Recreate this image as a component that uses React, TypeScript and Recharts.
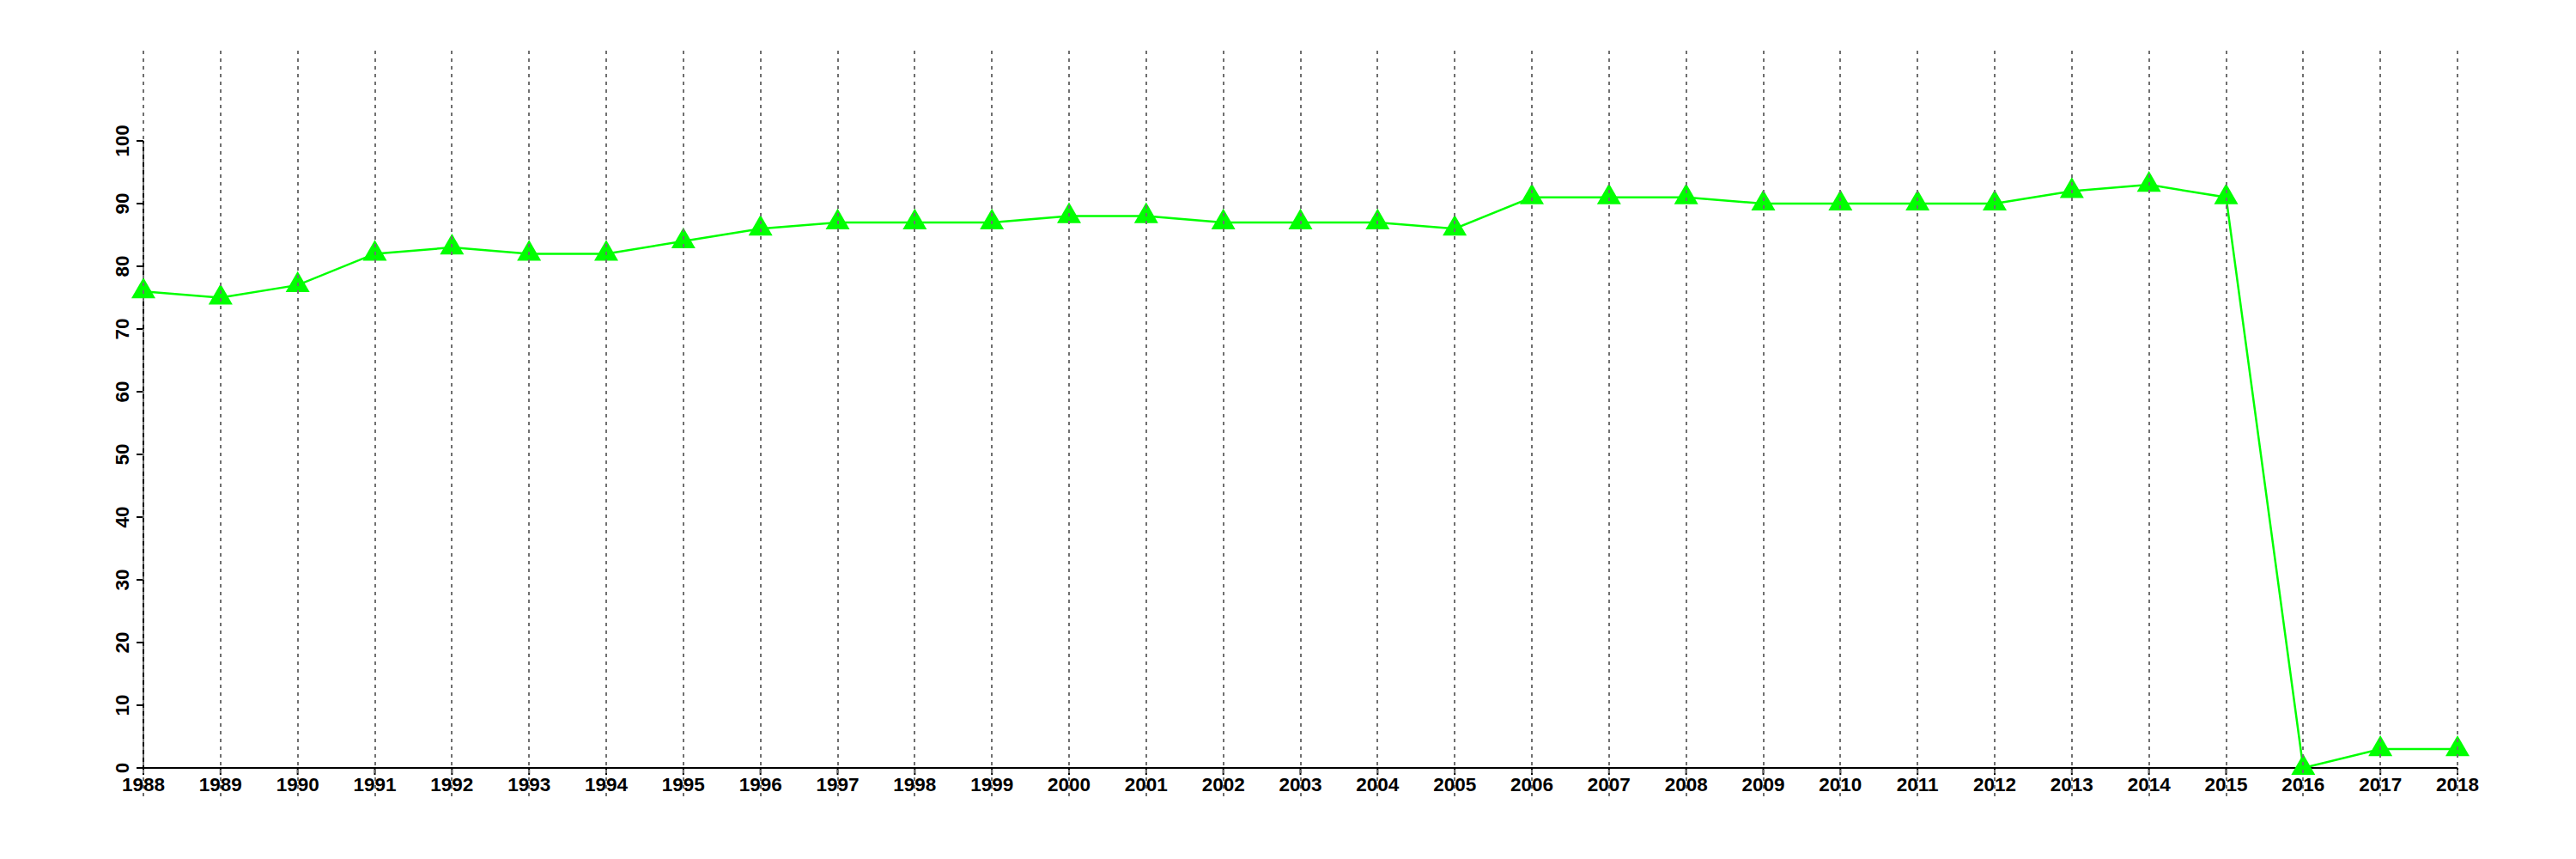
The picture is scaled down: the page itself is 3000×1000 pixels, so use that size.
import { LineChart, Line, XAxis, YAxis } from "recharts";

const years = [
  1988, 1989, 1990, 1991, 1992, 1993, 1994, 1995, 1996, 1997, 1998, 1999,
  2000, 2001, 2002, 2003, 2004, 2005, 2006, 2007, 2008, 2009, 2010, 2011,
  2012, 2013, 2014, 2015, 2016, 2017, 2018,
];

const values = [
  76, 75, 77, 82, 83, 82, 82, 84, 86, 87, 87, 87, 88, 88, 87, 87, 87, 86, 91,
  91, 91, 90, 90, 90, 90, 92, 93, 91, 0, 3, 3,
];

const yTicks = [0, 10, 20, 30, 40, 50, 60, 70, 80, 90, 100];

const data = years.map((year, i) => ({ year, value: values[i] }));

const FONT = "'Liberation Sans', Arial, Helvetica, sans-serif";

// x tick: dotted guide line running from the top of the chart through the label
function XTick(props: any) {
  const { x, y, payload } = props;
  const gx = Math.round(x);
  return (
    <g>
      <line
        x1={gx}
        x2={gx}
        y1={y - 845}
        y2={y + 23}
        stroke="#707070"
        strokeWidth={2}
        strokeDasharray="4 5"
      />
      <text
        x={x}
        y={y + 17}
        textAnchor="middle"
        fontFamily={FONT}
        fontWeight="bold"
        fontSize={22.5}
        fill="#000"
      >
        {payload.value}
      </text>
    </g>
  );
}

function YTick(props: any) {
  const { y, payload } = props;
  const tx = 150;
  return (
    <text
      x={tx}
      y={y}
      transform={`rotate(-90, ${tx}, ${y})`}
      textAnchor="middle"
      fontFamily={FONT}
      fontWeight="bold"
      fontSize={22.5}
      fill="#000"
    >
      {payload.value}
    </text>
  );
}

function Triangle(props: any) {
  const { cx, cy } = props;
  if (cx == null || cy == null) return null;
  const side = 28;
  const h = side * 0.866;
  const pts = `${cx},${cy - (2 * h) / 3} ${cx - side / 2},${cy + h / 3} ${cx + side / 2},${cy + h / 3}`;
  return <polygon points={pts} fill="#00ff00" stroke="none" />;
}

export default function App() {
  return (
    <div style={{ position: "absolute", left: 0, top: 0, background: "#fff" }}>
      <LineChart
        width={3000}
        height={1000}
        data={data}
        margin={{ top: 164, right: 138, bottom: 0, left: 0 }}
      >
        <XAxis
          dataKey="year"
          type="number"
          domain={[1988, 2018]}
          ticks={years}
          interval={0}
          height={106}
          tickSize={8}
          tickMargin={2}
          axisLine={{ stroke: "#000", strokeWidth: 2 }}
          tickLine={{ stroke: "#000", strokeWidth: 2 }}
          tick={<XTick />}
        />
        <YAxis
          type="number"
          domain={[0, 100]}
          ticks={yTicks}
          interval={0}
          width={167}
          tickSize={8}
          axisLine={{ stroke: "#000", strokeWidth: 2 }}
          tickLine={{ stroke: "#000", strokeWidth: 2 }}
          tick={<YTick />}
        />
        <Line
          type="linear"
          dataKey="value"
          stroke="#00ff00"
          strokeWidth={2.5}
          dot={<Triangle />}
          activeDot={false}
          isAnimationActive={false}
        />
      </LineChart>
    </div>
  );
}
